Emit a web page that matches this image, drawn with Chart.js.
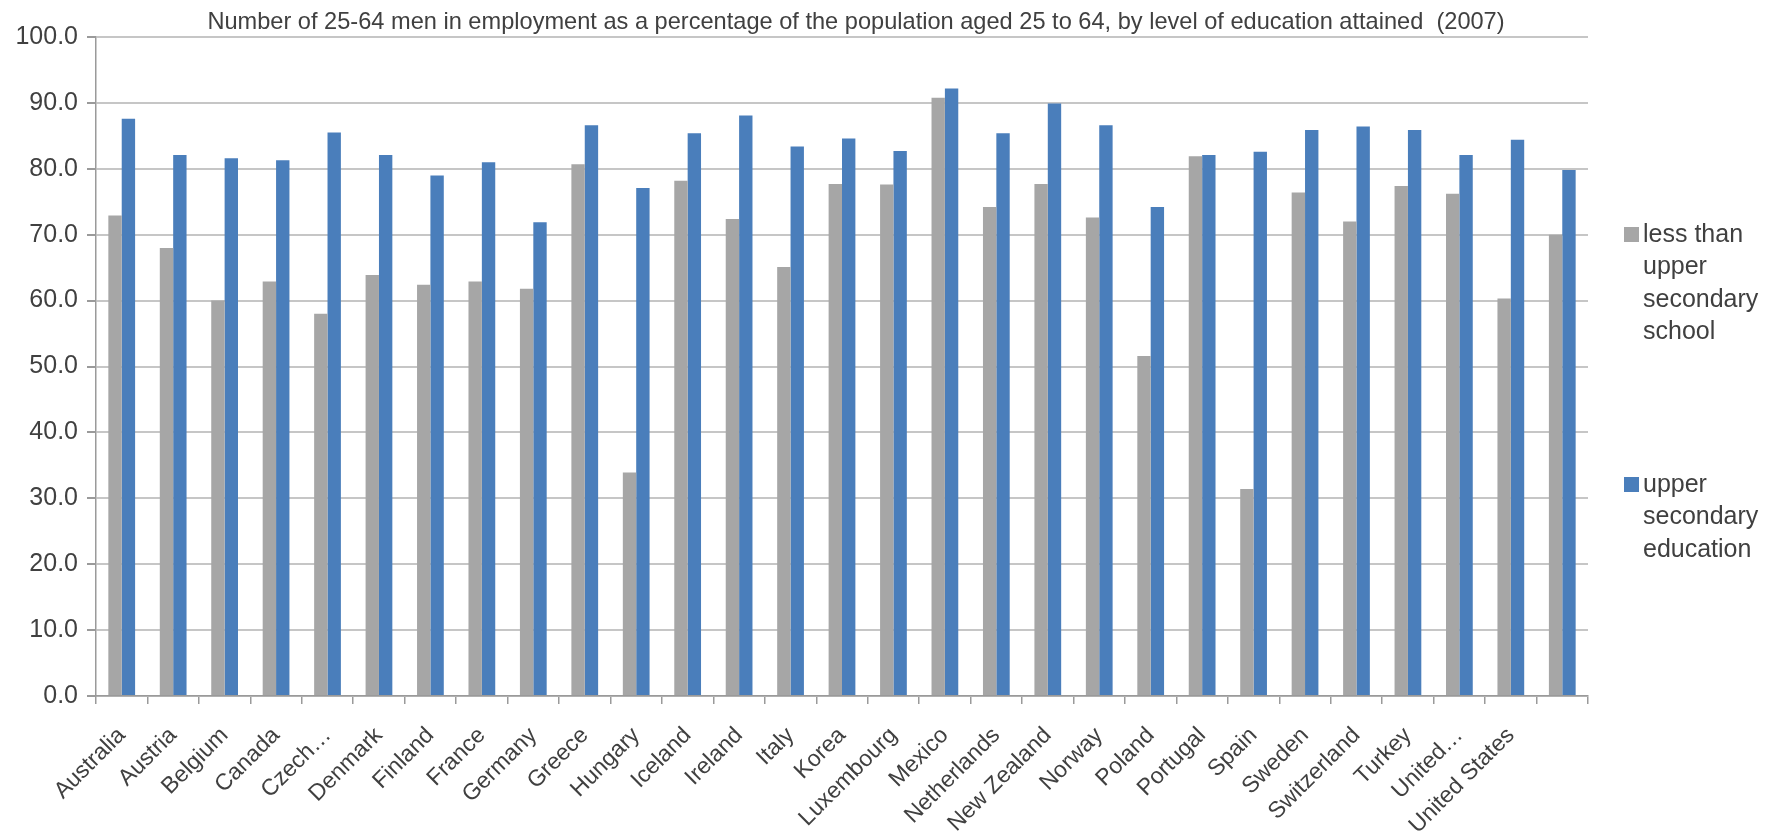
<!DOCTYPE html>
<html>
<head>
<meta charset="utf-8">
<title>Men in employment by education level (2007)</title>
<script src="https://cdn.jsdelivr.net/npm/chart.js@4.4.1/dist/chart.umd.min.js"></script>
<style>
    html, body { margin: 0; padding: 0; background: #ffffff; }
    #wrap { width: 1777px; height: 833px; }
</style>
</head>
<body>
<div id="wrap">
    <canvas id="employmentChart" width="1777" height="833"></canvas>
</div>
<script>
// Country labels (last group has no label on the axis)
const countries = [
    'Australia', 'Austria', 'Belgium', 'Canada', 'Czech…', 'Denmark', 'Finland',
    'France', 'Germany', 'Greece', 'Hungary', 'Iceland', 'Ireland', 'Italy', 'Korea',
    'Luxembourg', 'Mexico', 'Netherlands', 'New Zealand', 'Norway', 'Poland',
    'Portugal', 'Spain', 'Sweden', 'Switzerland', 'Turkey', 'United…', 'United States', ''
];

// Employment rate, % of men aged 25-64
const lessThanUpperSecondary = [
    72.9, 68.0, 60.0, 62.9, 58.0, 63.9, 62.4, 62.9, 61.8, 80.7, 33.9, 78.2, 72.4, 65.1, 77.7,
    77.6, 90.8, 74.2, 77.7, 72.6, 51.6, 81.9, 31.4, 76.4, 72.0, 77.4, 76.2, 60.3, 70.0
];
const upperSecondary = [
    87.6, 82.1, 81.6, 81.3, 85.5, 82.1, 79.0, 81.0, 71.9, 86.6, 77.1, 85.4, 88.1, 83.4, 84.6,
    82.7, 92.2, 85.4, 89.9, 86.6, 74.2, 82.1, 82.6, 85.9, 86.4, 85.9, 82.1, 84.4, 79.8
];

const seriesNames = ['less than upper secondary school', 'upper secondary education'];
const seriesColors = ['#a6a6a6', '#4a7ebb'];

const chartTitle = 'Number of 25-64 men in employment as a percentage of the population aged 25 to 64, by level of education attained  (2007)';

const fontFamily = "'Liberation Sans', Arial, sans-serif";
const textColor = '#404040';

// Split a legend label into lines no wider than maxWidth
function wrapText(ctx, text, maxWidth) {
    const words = text.split(' ');
    const lines = [];
    let line = '';
    words.forEach(word => {
        const test = line ? line + ' ' + word : word;
        if (line && ctx.measureText(test).width > maxWidth) {
            lines.push(line);
            line = word;
        } else {
            line = test;
        }
    });
    if (line) lines.push(line);
    return lines;
}

// Title above the plot area
const titlePlugin = {
    id: 'plotTitle',
    afterDraw(chart) {
        const { ctx, chartArea } = chart;
        ctx.save();
        ctx.font = '23.6px ' + fontFamily;
        ctx.fillStyle = textColor;
        ctx.textAlign = 'center';
        ctx.textBaseline = 'alphabetic';
        ctx.fillText(chartTitle, (chartArea.left + chartArea.right) / 2 + 14, chartArea.top - 8);
        ctx.restore();
    }
};

// Legend on the right with wrapped labels
const sideLegendPlugin = {
    id: 'sideLegend',
    afterDraw(chart) {
        const { ctx, chartArea } = chart;
        const x = chartArea.right + 36;
        const entryTops = [chartArea.top + 198, chartArea.top + 448];
        const lineHeight = 32.5;
        ctx.save();
        ctx.font = '25px ' + fontFamily;
        ctx.textBaseline = 'middle';
        ctx.textAlign = 'left';
        chart.data.datasets.forEach((ds, i) => {
            const y = entryTops[i];
            ctx.fillStyle = ds.backgroundColor;
            ctx.fillRect(x, y - 8, 15, 15);
            ctx.fillStyle = textColor;
            const lines = wrapText(ctx, ds.label, 125);
            lines.forEach((ln, j) => {
                ctx.fillText(ln, x + 19, y + j * lineHeight);
            });
        });
        ctx.restore();
    }
};

function createChart() {
    const ctx = document.getElementById('employmentChart').getContext('2d');
    new Chart(ctx, {
        type: 'bar',
        data: {
            labels: countries,
            datasets: [
                {
                    label: seriesNames[0],
                    data: lessThanUpperSecondary,
                    backgroundColor: seriesColors[0],
                    categoryPercentage: 0.52,
                    barPercentage: 1.0
                },
                {
                    label: seriesNames[1],
                    data: upperSecondary,
                    backgroundColor: seriesColors[1],
                    categoryPercentage: 0.52,
                    barPercentage: 1.0
                }
            ]
        },
        options: {
            responsive: false,
            animation: false,
            layout: {
                padding: { top: 37, right: 189, bottom: 0, left: 0 }
            },
            plugins: {
                legend: { display: false },
                title: { display: false },
                tooltip: { enabled: false }
            },
            scales: {
                x: {
                    afterFit: scale => { scale.height = 137; },
                    grid: {
                        offset: true,
                        drawOnChartArea: false,
                        drawTicks: true,
                        tickLength: 8,
                        color: '#9a9a9a',
                        lineWidth: 1.5
                    },
                    border: { display: true, color: '#9a9a9a', width: 1.5 },
                    ticks: {
                        autoSkip: false,
                        minRotation: 45,
                        maxRotation: 45,
                        padding: 18,
                        color: textColor,
                        font: { family: fontFamily, size: 23 }
                    }
                },
                y: {
                    min: 0,
                    max: 100,
                    afterFit: scale => { scale.width = 96; },
                    grid: {
                        color: '#c6c6c6',
                        lineWidth: 2,
                        drawTicks: true,
                        tickLength: 9,
                        tickColor: '#9a9a9a'
                    },
                    border: { display: true, color: '#9a9a9a', width: 1.5 },
                    ticks: {
                        stepSize: 10,
                        padding: 9,
                        color: textColor,
                        font: { family: fontFamily, size: 25 },
                        callback: value => value.toFixed(1)
                    }
                }
            }
        },
        plugins: [titlePlugin, sideLegendPlugin]
    });
}

createChart();
</script>
</body>
</html>
